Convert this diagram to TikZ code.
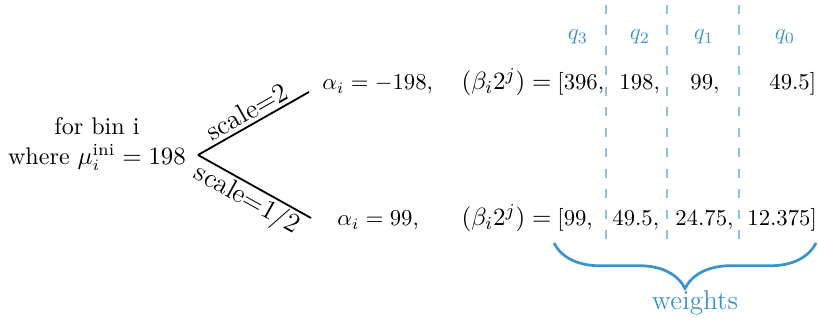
\documentclass[tikz,border=0pt]{standalone}
\usepackage{amsmath,amssymb}
\usepackage{xcolor}
\definecolor{wtblue}{RGB}{58,146,206}
\definecolor{wtdash}{RGB}{140,192,230}
\usepackage{tikz}
\usetikzlibrary{decorations.pathreplacing}
\tikzset{
  row term/.style={anchor=base west, inner sep=0pt},
  row lhs/.style={anchor=base east, inner sep=0pt, font=\fontsize{11}{13}\selectfont},
  branch edge/.style={line width=0.8pt},
  branch label/.style={font=\large, sloped, inner sep=1.5pt},
  q label/.style={anchor=base, inner sep=0pt, text=wtblue},
  q divider/.style={wtdash, line width=0.7pt, dash pattern=on 4pt off 5pt},
  weight brace/.style={decorate, decoration={brace, mirror, amplitude=20pt}, wtblue, line width=1.2pt},
}

\begin{document}
\begin{tikzpicture}[x=0.44pt, y=-0.44pt]
  \useasboundingbox (0,0) rectangle (818,322);
  \node[align=center, inner sep=0pt, font=\fontsize{10.6}{13}\selectfont] (root) at (97,144) {for bin i\\where $\mu_i^{\text{ini}} = 198$};
  \coordinate (fork) at (198,155);
  \coordinate (upend) at (309,92);
  \coordinate (downend) at (311,218);
  \draw[branch edge] (fork) -- node[branch label, above] {scale=2} (upend);
  \draw[branch edge] (fork) -- node[branch label, below, inner sep=0.5pt] {scale=1/2} (downend);

  % upper row
  \node[row term] (ua) at (322,90) {$\alpha_i = -198,$};
  \node[row lhs] (ub) at (552,90) {$(\beta_i 2^j) =$};
  \node[row term] (u3) at (557,90) {$[396,$};
  \node[row term] (u2) at (619,90) {$198,$};
  \node[row term] (u1) at (690,90) {$99,$};
  \node[row term] (u0) at (769,90) {$49.5]$};

  % lower row
  \node[row term] (la) at (337,226) {$\alpha_i = 99,$};
  \node[row lhs] (lb) at (552,226) {$(\beta_i 2^j) =$};
  \node[row term] (l3) at (557,226) {$[99,$};
  \node[row term] (l2) at (612,226) {$49.5,$};
  \node[row term] (l1) at (675,226) {$24.75,$};
  \node[row term] (l0) at (747,226) {$12.375]$};

  % qubit columns
  \foreach \x in {606,667,739}
    \draw[q divider] (\x,5) -- (\x,248);
  \node[q label] (q3) at (578,40) {$q_3$};
  \node[q label] (q2) at (640,40) {$q_2$};
  \node[q label] (q1) at (704,40) {$q_1$};
  \node[q label] (q0) at (785,40) {$q_0$};

  \coordinate (bl) at (554,243);
  \coordinate (br) at (816,243);
  \draw[weight brace] (bl) -- (br);
  \node[text=wtblue, font=\large] (wlab) at (695,303) {weights};
\end{tikzpicture}
\end{document}
